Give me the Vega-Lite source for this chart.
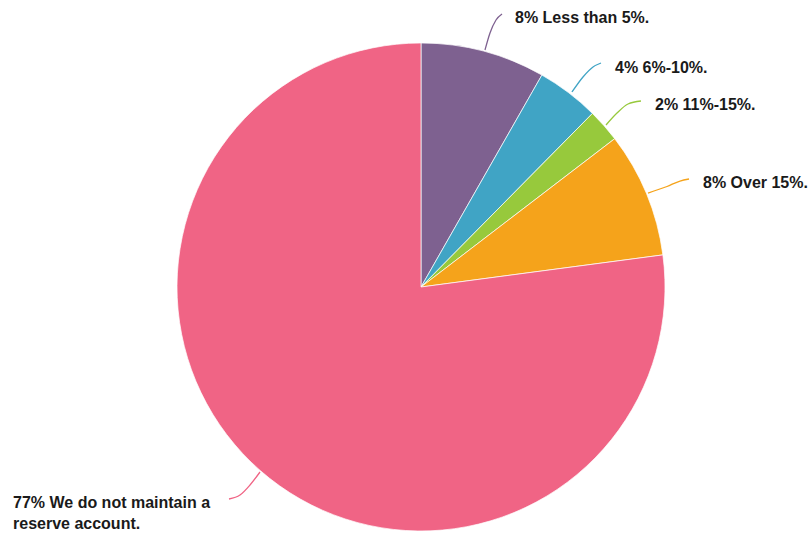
{
  "$schema": "https://vega.github.io/schema/vega-lite/v6.json",
  "width": 488,
  "height": 488,
  "autosize": "none",
  "padding": {"left": 177, "top": 43, "right": 145, "bottom": 4},
  "background": "white",
  "config": {"view": {"stroke": null}},
  "datasets": {
    "slices": [
      {"idx": 1, "answer": "Less than 5%.", "pct": 8.25},
      {"idx": 2, "answer": "6%-10%.", "pct": 4.15},
      {"idx": 3, "answer": "11%-15%.", "pct": 2.2},
      {"idx": 4, "answer": "Over 15%.", "pct": 8.3},
      {"idx": 5, "answer": "We do not maintain a reserve account.", "pct": 77.1}
    ],
    "leaders": [
      {"answer": "Less than 5%.", "lx": 26.23, "ly": 97.13},
      {"answer": "Less than 5%.", "lx": 28.28, "ly": 104.1},
      {"answer": "Less than 5%.", "lx": 30.74, "ly": 109.43},
      {"answer": "Less than 5%.", "lx": 33.2, "ly": 111.89},
      {"answer": "6%-10%.", "lx": 61.89, "ly": 79.92},
      {"answer": "6%-10%.", "lx": 66.39, "ly": 86.07},
      {"answer": "6%-10%.", "lx": 70.49, "ly": 90.16},
      {"answer": "6%-10%.", "lx": 73.77, "ly": 91.8},
      {"answer": "11%-15%.", "lx": 75.82, "ly": 66.39},
      {"answer": "11%-15%.", "lx": 80.33, "ly": 71.31},
      {"answer": "11%-15%.", "lx": 84.84, "ly": 75.0},
      {"answer": "11%-15%.", "lx": 90.16, "ly": 76.23},
      {"answer": "Over 15%.", "lx": 93.03, "ly": 38.52},
      {"answer": "Over 15%.", "lx": 100.82, "ly": 41.19},
      {"answer": "Over 15%.", "lx": 106.15, "ly": 43.44},
      {"answer": "Over 15%.", "lx": 109.84, "ly": 44.26},
      {"answer": "We do not maintain a reserve account.", "lx": -78.69, "ly": -86.89},
      {"answer": "We do not maintain a reserve account.", "lx": -74.18, "ly": -85.25},
      {"answer": "We do not maintain a reserve account.", "lx": -70.08, "ly": -81.15},
      {"answer": "We do not maintain a reserve account.", "lx": -65.98, "ly": -75.82}
    ],
    "labels": [
      {"label": "8% Less than 5%.", "tx": 38.52, "ty": 108.32},
      {"label": "4% 6%-10%.", "tx": 79.51, "ty": 87.58},
      {"label": "2% 11%-15%.", "tx": 95.9, "ty": 72.54},
      {"label": "8% Over 15%.", "tx": 115.57, "ty": 40.45},
      {"label": "77% We do not maintain a\nreserve account.", "tx": -167.21, "ty": -90.45}
    ]
  },
  "layer": [
    {
      "data": {"name": "slices"},
      "mark": {"type": "arc", "stroke": "#ffffff", "strokeWidth": 0.7},
      "encoding": {
        "theta": {"field": "pct", "type": "quantitative", "stack": true},
        "order": {"field": "idx", "type": "quantitative"},
        "color": {
          "field": "answer",
          "type": "nominal",
          "legend": null,
          "scale": {
            "domain": ["Less than 5%.", "6%-10%.", "11%-15%.", "Over 15%.", "We do not maintain a reserve account."],
            "range": ["#7e6190", "#40a4c5", "#97c93c", "#f5a31b", "#f06485"]
          }
        }
      }
    },
    {
      "data": {"name": "leaders"},
      "mark": {"type": "line", "interpolate": "monotone", "strokeWidth": 1.3},
      "encoding": {
        "x": {"field": "lx", "type": "quantitative", "axis": null, "scale": {"domain": [-100, 100], "nice": false, "zero": false}},
        "y": {"field": "ly", "type": "quantitative", "axis": null, "scale": {"domain": [-100, 100], "nice": false, "zero": false}},
        "color": {"field": "answer", "type": "nominal", "legend": null}
      }
    },
    {
      "data": {"name": "labels"},
      "mark": {
        "type": "text",
        "align": "left",
        "baseline": "alphabetic",
        "font": "Liberation Sans",
        "fontWeight": "bold",
        "fontSize": 16,
        "lineBreak": "\n",
        "lineHeight": 21.5,
        "color": "#1a1a1a"
      },
      "encoding": {
        "x": {"field": "tx", "type": "quantitative", "axis": null, "scale": {"domain": [-100, 100], "nice": false, "zero": false}},
        "y": {"field": "ty", "type": "quantitative", "axis": null, "scale": {"domain": [-100, 100], "nice": false, "zero": false}},
        "text": {"field": "label", "type": "nominal"}
      }
    }
  ]
}
